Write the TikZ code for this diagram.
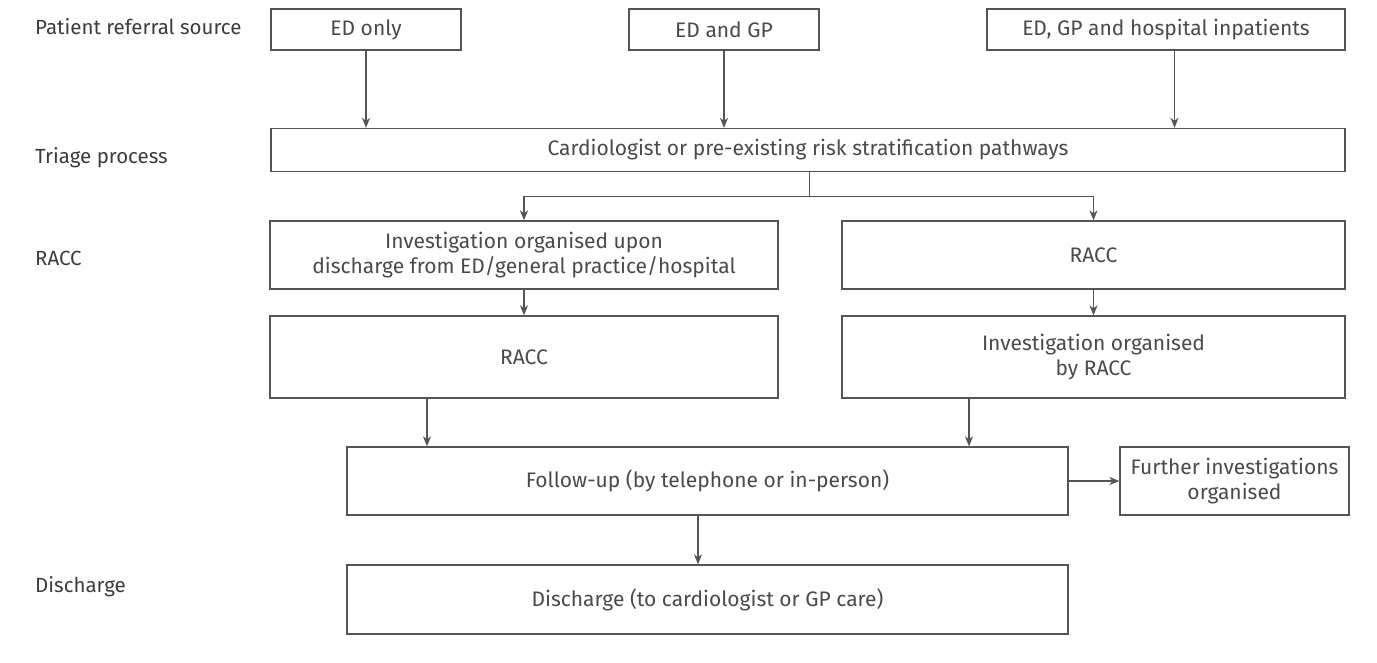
\documentclass[tikz,border=0pt]{standalone}
\usepackage{fontspec}
\setmainfont{Fira Sans}
\usetikzlibrary{arrows.meta}
\definecolor{ln}{HTML}{555555}
\definecolor{tx}{HTML}{3C3C3C}
\definecolor{txl}{HTML}{4A4A4A}
\tikzset{
  box/.style={draw=ln, line width=1.3pt, fill=white, inner sep=0pt, align=center, text=txl,
    font=\fontsize{21}{25}\selectfont},
  lab/.style={anchor=west, text=tx, inner sep=0pt, font=\fontsize{20.5}{24}\selectfont},
  conn/.style={draw=ln, line width=1.3pt, -{Stealth[length=10pt,width=8pt,inset=3pt]}},
  seg/.style={draw=ln, line width=1.3pt}
}
\begin{document}
\begin{tikzpicture}[x=1pt,y=-1pt]
\useasboundingbox[fill=white] (0,0) rectangle (1377,662);
% left labels
\node[lab] (l1) at (35,27) {Patient referral source};
\node[lab] (l2) at (35,158) {Triage process};
\node[lab] (l3) at (35,258) {RACC};
\node[lab] (l4) at (35,587) {Discharge};
% boxes
\node[box, minimum width=190pt, minimum height=41pt] (ed) at (366,29.5) {ED only};
\node[box, minimum width=190pt, minimum height=41pt] (edgp) at (724,29.5) {ED and GP};
\node[box, minimum width=358pt, minimum height=41pt] (edgph) at (1166,29.5) {ED, GP and hospital inpatients};
\node[box, minimum width=1074pt, minimum height=43pt] (tri) at (808,150) {Cardiologist or pre-existing risk stratification pathways};
\node[box, minimum width=508pt, minimum height=68pt] (inv1) at (524,255) {Investigation organised upon\\discharge from ED/general practice/hospital};
\node[box, minimum width=503pt, minimum height=68pt] (racc1) at (1093.5,255) {RACC};
\node[box, minimum width=508pt, minimum height=82pt] (racc2) at (524,357) {RACC};
\node[box, minimum width=503pt, minimum height=82pt] (inv2) at (1093.5,357) {Investigation organised\\by RACC};
\node[box, minimum width=721pt, minimum height=68pt] (fol) at (707.5,481) {Follow-up (by telephone or in-person)};
\node[box, minimum width=229pt, minimum height=68pt] (fur) at (1234.5,481) {Further investigations\\organised};
\node[box, minimum width=721pt, minimum height=69pt] (dis) at (707.5,599.5) {Discharge (to cardiologist or GP care)};
% connectors
\draw[conn] (ed.south) -- (ed.south |- tri.north);
\draw[conn] (edgp.south) -- (edgp.south |- tri.north);
\coordinate (c3) at (1174.5,50);
\draw[conn] (c3 |- edgph.south) -- (c3 |- tri.north);
\coordinate (br) at (809.5,196.5);
\draw[seg] (br |- tri.south) -- (br);
\draw[conn] (br) -| (inv1.north);
\draw[conn] (br) -| (racc1.north);
\draw[conn] (inv1.south) -- (racc2.north);
\draw[conn] (racc1.south) -- (inv2.north);
\coordinate (c4) at (427,400);
\draw[conn] (c4 |- racc2.south) -- (c4 |- fol.north);
\coordinate (c5) at (969,400);
\draw[conn] (c5 |- inv2.south) -- (c5 |- fol.north);
\coordinate (c6) at (698,520);
\draw[conn] (c6 |- fol.south) -- (c6 |- dis.north);
\draw[conn] (fol.east) -- (fur.west);
\end{tikzpicture}
\end{document}
